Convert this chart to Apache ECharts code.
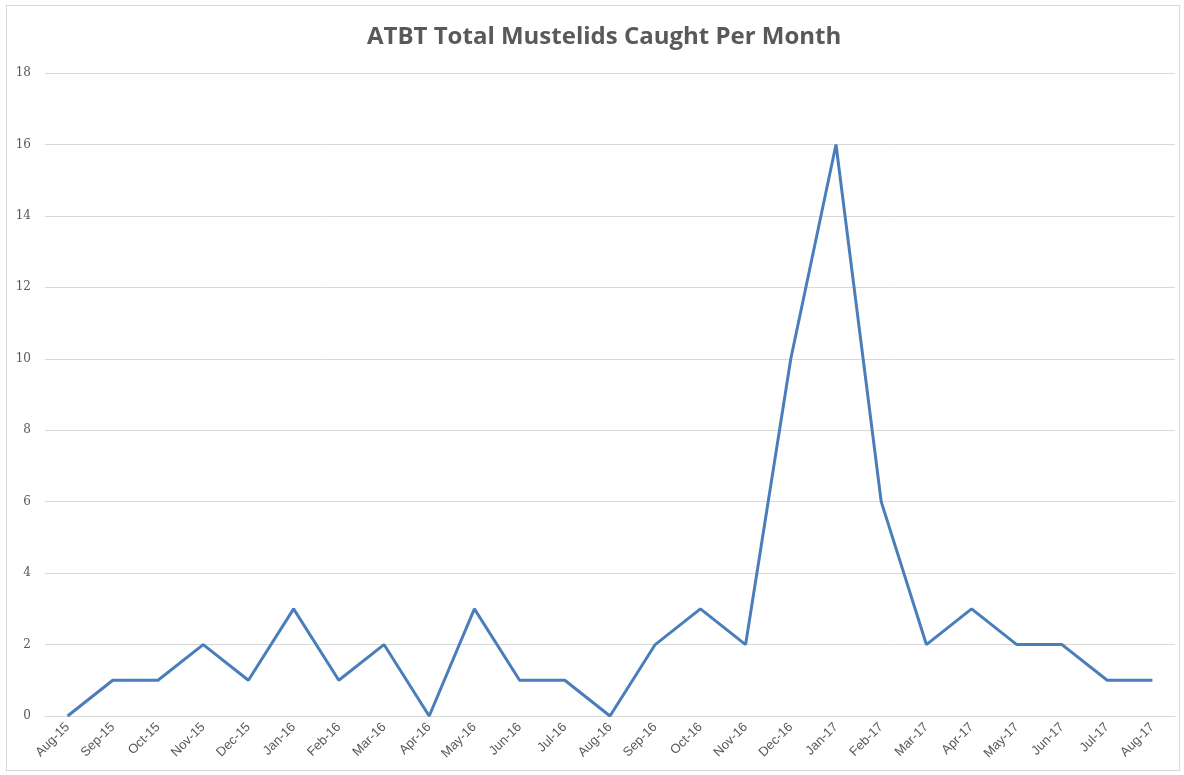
<!DOCTYPE html>
<html>
<head>
<meta charset="utf-8">
<script src="https://cdn.jsdelivr.net/npm/echarts@6/dist/echarts.min.js"></script>
<style>
  html, body { margin: 0; padding: 0; background: #fff; }
  #frame { position: absolute; left: 6px; top: 5px; width: 1172px; height: 764px; border: 1px solid #d9d9d9; }
  #main { position: absolute; left: 0; top: 0; width: 1184px; height: 775px; }
</style>
</head>
<body>
<div id="frame"></div>
<div id="main"></div>
<script>
// months on the x axis
const months = ['Aug-15', 'Sep-15', 'Oct-15', 'Nov-15', 'Dec-15', 'Jan-16', 'Feb-16', 'Mar-16', 'Apr-16',
  'May-16', 'Jun-16', 'Jul-16', 'Aug-16', 'Sep-16', 'Oct-16', 'Nov-16', 'Dec-16', 'Jan-17', 'Feb-17',
  'Mar-17', 'Apr-17', 'May-17', 'Jun-17', 'Jul-17', 'Aug-17'];
// total mustelids caught
const caught = [0, 1, 1, 2, 1, 3, 1, 2, 0, 3, 1, 1, 0, 2, 3, 2, 10, 16, 6, 2, 3, 2, 2, 1, 1];
const yMin = 0, yMax = 18, yStep = 2;

const myChart = echarts.init(document.getElementById('main'));
myChart.setOption({
  animation: false,
  title: {
    text: 'ATBT Total Mustelids Caught Per Month',
    left: 362,
    top: 20,
    textStyle: { fontFamily: 'Open Sans', fontSize: 24, fontWeight: 'bold', color: '#595959' }
  },
  grid: { left: 45, right: 9, top: 73, bottom: 59 },
  xAxis: {
    type: 'category',
    data: months,
    boundaryGap: true,
    axisLine: { lineStyle: { color: '#d9d9d9' } },
    axisTick: { show: false },
    axisLabel: {
      rotate: 45, margin: 9, interval: 0,
      fontFamily: 'Liberation Sans', fontSize: 13, color: '#595959'
    }
  },
  yAxis: {
    type: 'value',
    min: yMin, max: yMax, interval: yStep,
    axisLine: { show: false },
    axisTick: { show: false },
    splitLine: { lineStyle: { color: '#d9d9d9', width: 1 } },
    axisLabel: { margin: 14, fontFamily: 'DejaVu Serif', fontSize: 12, color: '#595959' }
  },
  series: [{
    type: 'line',
    data: caught,
    showSymbol: false,
    lineStyle: { color: '#4a7ebb', width: 3 },
    itemStyle: { color: '#4a7ebb' }
  }]
});
</script>
</body>
</html>
